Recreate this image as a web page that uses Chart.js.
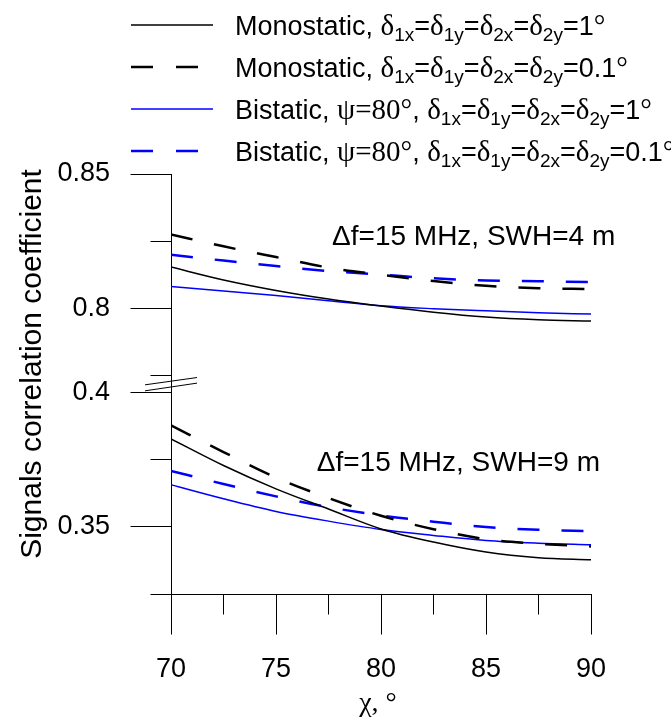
<!DOCTYPE html>
<html>
<head>
<meta charset="utf-8">
<script src="https://cdn.jsdelivr.net/npm/chart.js@4.4.1/dist/chart.umd.min.js"></script>
<style>
html, body { margin: 0; padding: 0; background: #fff; overflow: hidden; }
#wrap { position: relative; width: 671px; height: 723px; }
#chart-corr { position: absolute; left: 0; top: 0; }
#lineLegend { position: absolute; left: 0; top: 4px; width: 671px; overflow: hidden;
  font-family: "Liberation Sans", Arial, sans-serif; font-size: 27px; color: #000; }
#lineLegend .title { position: relative; height: 42px; line-height: 42px; white-space: nowrap; }
#lineLegend svg { position: absolute; left: 131px; top: 0; }
#lineLegend .text-node { position: absolute; left: 235px; top: 0; }
.gr { font-family: "Liberation Serif", "Times New Roman", serif; font-size: 29px; }
#lineLegend sub { font-size: 19px; vertical-align: -6px; line-height: 0; }
</style>
</head>
<body>
<div id="wrap">
  <canvas id="chart-corr" width="671" height="723"></canvas>
  <div id="lineLegend"></div>
</div>
<script>
// incidence angle, deg
var chiDeg = [70, 72.5, 75, 77.5, 80, 82.5, 85, 87.5, 90];

// SWH = 4 m
var mono1_h4  = [0.8154, 0.8106, 0.8067, 0.8035, 0.8009, 0.7986, 0.7968, 0.7958, 0.7953];
var mono01_h4 = [0.8275, 0.8231, 0.8191, 0.8152, 0.8125, 0.8102, 0.8084, 0.8075, 0.8072];
var bi1_h4    = [0.8082, 0.8065, 0.8048, 0.8029, 0.8010, 0.7999, 0.7991, 0.7984, 0.7979];
var bi01_h4   = [0.8200, 0.8178, 0.8158, 0.8139, 0.8126, 0.8112, 0.8104, 0.8101, 0.8098];

// SWH = 9 m
var mono1_h9  = [0.3827, 0.3728, 0.3641, 0.3566, 0.3492, 0.3443, 0.3406, 0.3385, 0.3377];
var mono01_h9 = [0.3877, 0.3778, 0.3683, 0.3607, 0.3541, 0.3491, 0.3454, 0.3437, 0.3427];
var bi1_h9    = [0.3656, 0.3604, 0.3557, 0.3521, 0.3490, 0.3468, 0.3449, 0.3439, 0.3433];
var bi01_h9   = [0.3708, 0.3659, 0.3613, 0.3573, 0.3542, 0.3519, 0.3499, 0.3489, 0.3484];

// ticks
var xMajor = [70, 75, 80, 85, 90];
var xMinor = [72.5, 77.5, 82.5, 87.5];
var yTopMajor = [0.8, 0.85];
var yTopMinor = [0.775, 0.825];
var yBotMajor = [0.35, 0.4];
var yBotMinor = [0.325, 0.375];

var seriesLabels = [
  'Monostatic, <span class="gr">&delta;</span><sub>1x</sub>=<span class="gr">&delta;</span><sub>1y</sub>=<span class="gr">&delta;</span><sub>2x</sub>=<span class="gr">&delta;</span><sub>2y</sub>=1<span class="gr">&deg;</span>',
  'Monostatic, <span class="gr">&delta;</span><sub>1x</sub>=<span class="gr">&delta;</span><sub>1y</sub>=<span class="gr">&delta;</span><sub>2x</sub>=<span class="gr">&delta;</span><sub>2y</sub>=0.1<span class="gr">&deg;</span>',
  'Bistatic, <span class="gr">&psi;=80&deg;</span>, <span class="gr">&delta;</span><sub>1x</sub>=<span class="gr">&delta;</span><sub>1y</sub>=<span class="gr">&delta;</span><sub>2x</sub>=<span class="gr">&delta;</span><sub>2y</sub>=1<span class="gr">&deg;</span>',
  'Bistatic, <span class="gr">&psi;=80&deg;</span>, <span class="gr">&delta;</span><sub>1x</sub>=<span class="gr">&delta;</span><sub>1y</sub>=<span class="gr">&delta;</span><sub>2x</sub>=<span class="gr">&delta;</span><sub>2y</sub>=0.1<span class="gr">&deg;</span>'
];
var panelNotes = ['\u0394f=15 MHz, SWH=4 m', '\u0394f=15 MHz, SWH=9 m'];

var styles = [
  { color: '#000000', width: 1.5, dash: [] },
  { color: '#000000', width: 2.5, dash: [22, 22] },
  { color: '#0000ff', width: 1.5, dash: [] },
  { color: '#0000ff', width: 2.5, dash: [22, 22] }
];

function pts(arr) {
  return chiDeg.map(function(c, i) { return { x: c, y: arr[i] }; });
}

function makeSet(i, arr, axis) {
  var s = styles[i];
  return {
    label: 'series' + i,
    data: pts(arr),
    yAxisID: axis,
    borderColor: s.color,
    borderWidth: s.width,
    borderDash: s.dash,
    pointRadius: 0,
    cubicInterpolationMode: 'monotone',
    fill: false
  };
}

var datasets = [
  makeSet(0, mono1_h4, 'yTop'), makeSet(1, mono01_h4, 'yTop'),
  makeSet(2, bi1_h4, 'yTop'), makeSet(3, bi01_h4, 'yTop'),
  makeSet(0, mono1_h9, 'yBot'), makeSet(1, mono01_h9, 'yBot'),
  makeSet(2, bi1_h9, 'yBot'), makeSet(3, bi01_h9, 'yBot')
];

var labelFont = { family: '"Liberation Sans", Arial, sans-serif', size: 27 };

function setTicks(list) {
  return function(scale) {
    scale.ticks = list.map(function(v) { return { value: v }; });
  };
}

// tick marks, break marks, titles, panel notes
var axisDecor = {
  id: 'axisDecor',
  afterDraw: function(chart) {
    var ctx = chart.ctx;
    var sx = chart.scales.x, yT = chart.scales.yTop, yB = chart.scales.yBot;
    var left = chart.chartArea.left, bottom = chart.chartArea.bottom;
    var al = function(p) { return Math.round(p - 0.5) + 0.5; };
    var seg = function(x1, y1, x2, y2) {
      ctx.beginPath(); ctx.moveTo(x1, y1); ctx.lineTo(x2, y2); ctx.stroke();
    };
    ctx.save();
    ctx.strokeStyle = '#000';
    ctx.lineWidth = 1;
    var L = al(left), B = al(bottom);
    yTopMajor.forEach(function(v) { var p = al(yT.getPixelForValue(v)); seg(L - 41, p, L, p); });
    yTopMinor.forEach(function(v) { var p = al(yT.getPixelForValue(v)); seg(L - 21, p, L, p); });
    yBotMajor.forEach(function(v) { var p = al(yB.getPixelForValue(v)); seg(L - 41, p, L, p); });
    yBotMinor.forEach(function(v) { var p = al(yB.getPixelForValue(v)); seg(L - 21, p, L, p); });
    xMajor.forEach(function(v) { var p = al(sx.getPixelForValue(v)); seg(p, B, p, B + 40); });
    xMinor.forEach(function(v) { var p = al(sx.getPixelForValue(v)); seg(p, B, p, B + 20); });

    // axis break
    var g = yB.top;
    seg(left - 26, g - 7.5, left + 26, g - 14.8);
    seg(left - 26, g - 1.5, left + 26, g - 9.2);

    ctx.fillStyle = '#000';
    ctx.textBaseline = 'alphabetic';
    ctx.font = '28px "Liberation Sans", Arial, sans-serif';
    ctx.textAlign = 'left';
    ctx.fillText(panelNotes[0], sx.getPixelForValue(77.67), yT.getPixelForValue(0.8236));
    ctx.fillText(panelNotes[1], sx.getPixelForValue(76.94), yB.getPixelForValue(0.3708));

    // x title
    ctx.textAlign = 'center';
    ctx.font = '28px "Liberation Serif", "Times New Roman", serif';
    ctx.fillText('\u03c7, \u00b0', (sx.left + sx.right) / 2 - 3, 711);

    // y title
    ctx.translate(41, 364);
    ctx.rotate(-Math.PI / 2);
    ctx.font = '30px "Liberation Sans", Arial, sans-serif';
    ctx.fillText('Signals correlation coefficient', 0, 0);
    ctx.restore();
  }
};

var ctxCorr = document.getElementById('chart-corr').getContext('2d');
var CorrChart = new Chart(ctxCorr, {
  type: 'line',
  data: { datasets: datasets },
  options: {
    responsive: false,
    animation: false,
    layout: { padding: { top: 174, right: 80, left: 0, bottom: 0 } },
    plugins: { legend: { display: false }, tooltip: { enabled: false } },
    scales: {
      x: {
        type: 'linear', min: 70, max: 90,
        afterBuildTicks: setTicks(xMajor),
        afterFit: function(s) { s.height = 129; },
        grid: { display: false, drawTicks: true, tickLength: 40 },
        border: { display: true, color: '#000', width: 1 },
        ticks: { font: labelFont, color: '#000', padding: 19, maxRotation: 0,
                 callback: function(v) { return String(v); } }
      },
      yBot: {
        type: 'linear', position: 'left', min: 0.325, max: 0.4,
        stack: 'corr', stackWeight: 0.075,
        afterBuildTicks: setTicks(yBotMajor),
        afterFit: function(s) { s.width = 171; },
        grid: { display: false, drawTicks: true, tickLength: 41 },
        border: { display: true, color: '#000', width: 1 },
        ticks: { font: labelFont, color: '#000', padding: 20,
                 callback: function(v) { return String(v); } }
      },
      yTop: {
        type: 'linear', position: 'left', min: 0.7688, max: 0.85,
        stack: 'corr', stackWeight: 0.0812,
        afterBuildTicks: setTicks(yTopMajor),
        afterFit: function(s) { s.width = 171; },
        grid: { display: false, drawTicks: true, tickLength: 41 },
        border: { display: true, color: '#000', width: 1 },
        ticks: { font: labelFont, color: '#000', padding: 20,
                 callback: function(v) { return String(v); } }
      }
    }
  },
  plugins: [axisDecor]
});

function legendCorr(parent, chart) {
  while (parent.hasChildNodes()) {
    parent.removeChild(parent.lastChild);
  }
  seriesLabels.forEach(function(lbl, i) {
    var d = chart.data.datasets[i];
    var title = document.createElement('div');
    title.className = 'title';
    var svgNS = 'http://www.w3.org/2000/svg';
    var svg = document.createElementNS(svgNS, 'svg');
    svg.setAttribute('width', '82');
    svg.setAttribute('height', '42');
    var line = document.createElementNS(svgNS, 'line');
    line.setAttribute('x1', '0'); line.setAttribute('x2', '82');
    line.setAttribute('y1', '21'); line.setAttribute('y2', '21');
    line.setAttribute('stroke', d.borderColor);
    line.setAttribute('stroke-width', d.borderWidth);
    if (d.borderDash.length) line.setAttribute('stroke-dasharray', '22 23');
    svg.appendChild(line);
    title.appendChild(svg);
    var text = document.createElement('span');
    text.className = 'text-node';
    text.innerHTML = lbl;
    title.appendChild(text);
    parent.appendChild(title);
  });
}

legendCorr(document.getElementById('lineLegend'), CorrChart);
</script>
</body>
</html>
